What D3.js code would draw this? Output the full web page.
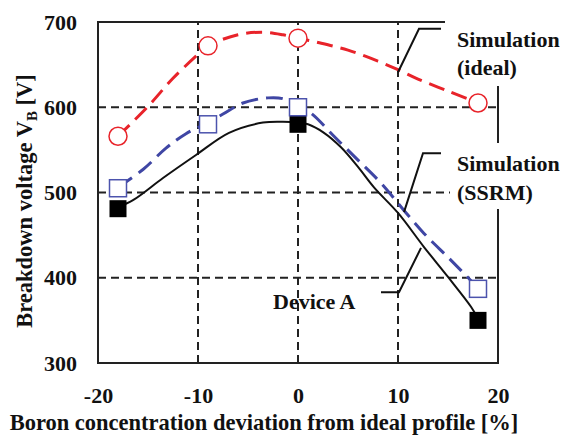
<!DOCTYPE html>
<html>
<head>
<meta charset="utf-8">
<script src="https://cdn.jsdelivr.net/npm/d3@7"></script>
<style>
  body { margin: 0; background: #fff; }
  svg { display: block; }
</style>
</head>
<body>
<div id="chart"></div>
<script>
const WIDTH = 568;
const HEIGHT = 436;
const MARGIN = { top: 22, right: 70, bottom: 73, left: 98 };

const FONT = "'Liberation Serif', 'Times New Roman', serif";
const RED = '#e8232a';
const BLUE = '#3f46a4';
const BLUE_MARK = '#4c53ad';

// axis ticks / gridlines
const xTicks = [-20, -10, 0, 10, 20];
const yTicks = [300, 400, 500, 600, 700];
const xGrid = [-10, 0, 10];
const yGrid = [400, 500, 600];

// measured points
const markX = [-18, -9, 0, 18];
const idealMarks = [566, 672, 681, 605];
const ssrmMarks = [505, 580, 600, 387];
const deviceX = [-18, 0, 18];
const deviceMarks = [481, 580, 350];

// simulated / fitted curves
const idealCurveX = [-18, -15, -12.5, -10, -9, -6, -3.5, -1.5, 0, 2, 5, 8, 10, 12, 15, 18];
const idealCurveY = [566, 601, 634, 662, 672, 685, 688, 685, 681, 676, 667, 654, 644, 633, 619, 605];
const ssrmCurveX = [-18, -15.5, -13.2, -11.2, -9, -7.5, -5.5, -3, -1.5, 0, 1.3, 3.6, 6, 8.3, 10.6, 12.6, 15, 16.6, 18];
const ssrmCurveY = [506, 527, 552, 569, 582, 592, 605, 611, 610, 601, 593, 566, 538, 511, 479, 452, 424, 405, 388];
const deviceCurveX = [-18, -16.5, -13.5, -10.2, -6.9, -3.5, -1.5, 0, 1, 2.6, 4.3, 6, 7.6, 10, 12.6, 15, 17.3, 18];
const deviceCurveY = [483, 491, 517, 544, 570, 582, 583, 582, 580, 570, 553, 530, 506, 476, 436, 401, 366, 352];

// callout leader lines, in data units
const idealLeader = [[10, 641], [12.1, 692], [14.3, 692]];
const ssrmLeader = [[10.6, 477], [12.5, 546], [14.3, 546]];
const deviceLeader = [[12.3, 435], [10.1, 383], [8.3, 383]];

const svg = d3.select('#chart').append('svg')
    .attr('width', WIDTH)
    .attr('height', HEIGHT)
    .style('font-family', FONT);

const x = d3.scaleLinear().domain([-20, 20]).range([MARGIN.left, WIDTH - MARGIN.right]);
const y = d3.scaleLinear().domain([300, 700]).range([HEIGHT - MARGIN.bottom, MARGIN.top]);

// gridlines
const grid = svg.append('g')
    .attr('stroke', '#222')
    .attr('stroke-width', 2)
    .attr('stroke-dasharray', '8,5');
grid.selectAll('.gx').data(xGrid).join('line')
    .attr('x1', d => x(d)).attr('x2', d => x(d))
    .attr('y1', y(300)).attr('y2', y(700));
grid.selectAll('.gy').data(yGrid).join('line')
    .attr('x1', x(-20)).attr('x2', x(20))
    .attr('y1', d => y(d)).attr('y2', d => y(d));

// frame
svg.append('rect')
    .attr('x', x(-20)).attr('y', y(700))
    .attr('width', x(20) - x(-20)).attr('height', y(300) - y(700))
    .attr('fill', 'none').attr('stroke', '#222').attr('stroke-width', 2);

// tick labels (plain hyphen for negatives, as in the original)
const xAxis = svg.append('g')
    .attr('transform', `translate(0,${y(300) + 21})`)
    .call(d3.axisBottom(x).tickValues(xTicks).tickSize(0).tickFormat(d => String(d)));
const yAxis = svg.append('g')
    .attr('transform', `translate(${x(-20) - 18},0)`)
    .call(d3.axisLeft(y).tickValues(yTicks).tickSize(0));
[xAxis, yAxis].forEach(a => {
    a.select('.domain').remove();
    a.selectAll('text')
        .style('font-family', FONT)
        .style('font-size', '22px')
        .style('font-weight', 'bold')
        .attr('fill', '#111');
});
xAxis.selectAll('text').attr('dy', '0.71em');

// curves
const line = d3.line().x(d => x(d[0])).y(d => y(d[1])).curve(d3.curveCatmullRom.alpha(0.5));

svg.append('path')
    .datum(idealCurveX.map((v, i) => [v, idealCurveY[i]]))
    .attr('d', line).attr('fill', 'none')
    .attr('stroke', RED).attr('stroke-width', 3).attr('stroke-dasharray', '16,8');
svg.append('path')
    .datum(ssrmCurveX.map((v, i) => [v, ssrmCurveY[i]]))
    .attr('d', line).attr('fill', 'none')
    .attr('stroke', BLUE).attr('stroke-width', 3).attr('stroke-dasharray', '17,8');
svg.append('path')
    .datum(deviceCurveX.map((v, i) => [v, deviceCurveY[i]]))
    .attr('d', line).attr('fill', 'none')
    .attr('stroke', '#111').attr('stroke-width', 2);

// markers
const SQ = 17;
svg.append('g').selectAll('rect')
    .data(deviceX.map((v, i) => [v, deviceMarks[i]]))
    .join('rect')
    .attr('x', d => x(d[0]) - SQ / 2).attr('y', d => y(d[1]) - SQ / 2)
    .attr('width', SQ).attr('height', SQ)
    .attr('fill', '#000');
svg.append('g').selectAll('rect')
    .data(markX.map((v, i) => [v, ssrmMarks[i]]))
    .join('rect')
    .attr('x', d => x(d[0]) - SQ / 2).attr('y', d => y(d[1]) - SQ / 2)
    .attr('width', SQ).attr('height', SQ)
    .attr('fill', '#fff').attr('stroke', BLUE_MARK).attr('stroke-width', 1.5);
svg.append('g').selectAll('circle')
    .data(markX.map((v, i) => [v, idealMarks[i]]))
    .join('circle')
    .attr('cx', d => x(d[0])).attr('cy', d => y(d[1])).attr('r', 9)
    .attr('fill', '#fff').attr('stroke', RED).attr('stroke-width', 1.5);

// white boxes behind right-hand labels (they hide parts of the frame)
svg.append('rect').attr('x', 445).attr('y', 0).attr('width', 123).attr('height', 86).attr('fill', '#fff');
svg.append('rect').attr('x', 450).attr('y', 143).attr('width', 118).attr('height', 66).attr('fill', '#fff');

// leader lines
const leader = d3.line().x(d => x(d[0])).y(d => y(d[1]));
[idealLeader, ssrmLeader, deviceLeader].forEach(pts => {
    svg.append('path').attr('d', leader(pts))
        .attr('fill', 'none').attr('stroke', '#111').attr('stroke-width', 2);
});

// labels
const labels = svg.append('g')
    .style('font-size', '22px').style('font-weight', 'bold').attr('fill', '#111');
labels.append('text').attr('x', 457).attr('y', 47).text('Simulation');
labels.append('text').attr('x', 457).attr('y', 75).text('(ideal)');
labels.append('text').attr('x', 457).attr('y', 171).text('Simulation');
labels.append('text').attr('x', 457).attr('y', 200).text('(SSRM)');
labels.append('text').attr('x', 273).attr('y', 309).text('Device A');

// axis titles
labels.append('text')
    .attr('x', 264).attr('y', 430)
    .attr('text-anchor', 'middle')
    .style('font-size', '22.5px')
    .text('Boron concentration deviation from ideal profile [%]');

const yTitle = labels.append('text')
    .attr('transform', 'translate(32,201) rotate(-90)')
    .attr('text-anchor', 'middle')
    .style('font-size', '22.5px');
yTitle.append('tspan').text('Breakdown voltage V');
yTitle.append('tspan').attr('dy', 5).style('font-size', '15px').text('B');
yTitle.append('tspan').attr('dy', -5).text(' [V]');
</script>
</body>
</html>
